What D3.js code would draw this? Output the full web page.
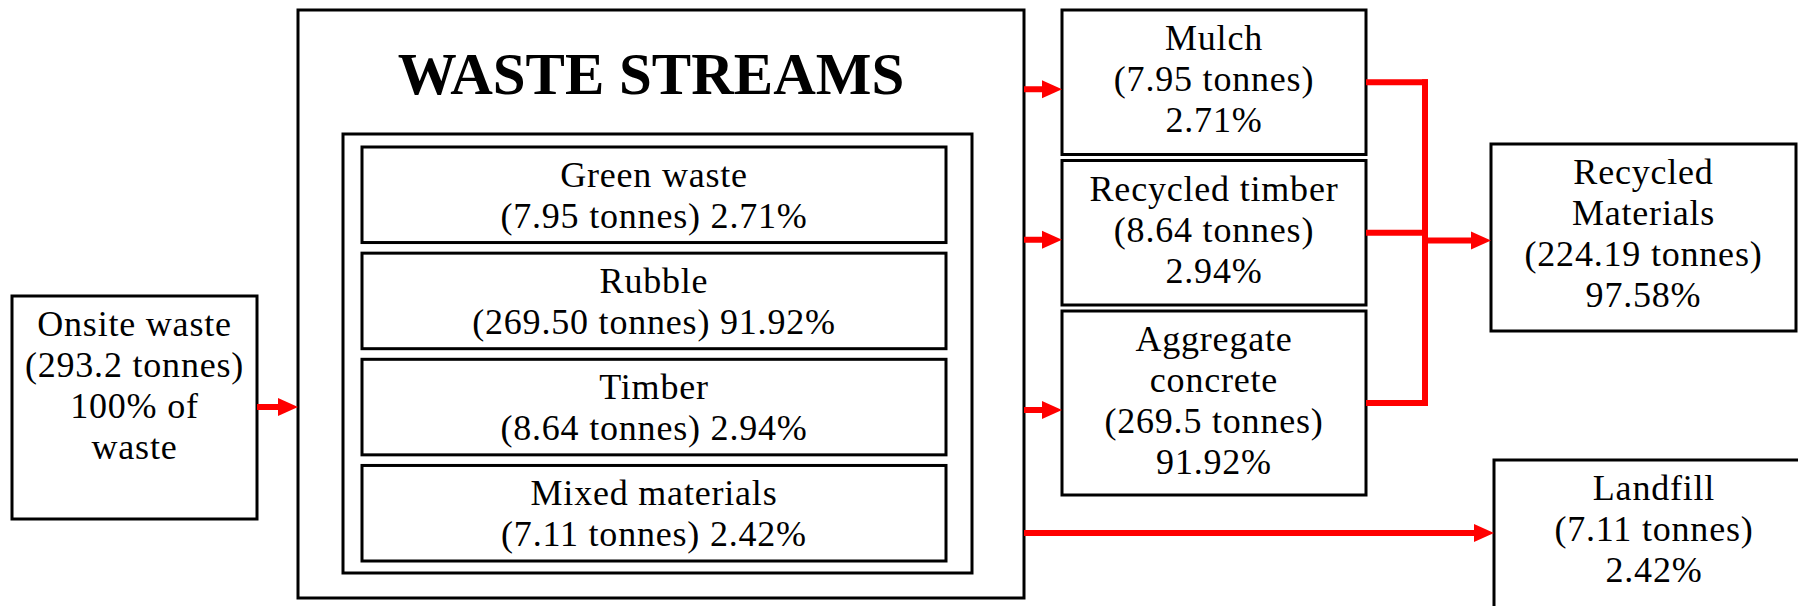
<!DOCTYPE html>
<html>
<head>
<meta charset="utf-8">
<script src="https://cdn.jsdelivr.net/npm/d3@7"></script>
<style>
  html, body { margin: 0; padding: 0; background: #fff; }
  svg { display: block; }
</style>
</head>
<body>
<svg id="diagrama"></svg>
<script>
/*═══════════════════════════════════════════════════════════════
  DATOS

  Flujo de residuos de obra: entrada total, corrientes de
  residuos, productos reciclados y destino final.
═══════════════════════════════════════════════════════════════*/
const corrientes    = ["Green waste", "Rubble", "Timber", "Mixed materials"];
const corrientesTon = [7.95, 269.50, 8.64, 7.11];
const corrientesPct = [2.71, 91.92, 2.94, 2.42];

const productos    = [["Mulch"], ["Recycled timber"], ["Aggregate", "concrete"]];
const productosTon = [7.95, 8.64, 269.5];
const productosPct = [2.71, 2.94, 91.92];

const totalTon = [293.2];
const totalPct = [100];

const destinos    = [["Recycled", "Materials"], ["Landfill"]];
const destinosTon = [224.19, 7.11];
const destinosPct = [97.58, 2.42];

const titulo = "WASTE STREAMS";

(function() {
  const width = 1798, height = 606;
  const rojo = "#ff0000";
  const fuente = "'Liberation Serif', 'Times New Roman', serif";
  const tam = 36, interlinea = 41, primeraLinea = 40;

  const svg = d3.select("#diagrama")
    .attr("width", width)
    .attr("height", height);

  /* caja con borde negro y texto centrado, alineado arriba */
  function caja(x, y, w, h, lineas) {
    const g = svg.append("g");
    g.append("rect")
      .attr("x", x).attr("y", y)
      .attr("width", w).attr("height", h)
      .attr("fill", "#fff")
      .attr("stroke", "#000")
      .attr("stroke-width", 3);
    g.selectAll("text")
      .data(lineas)
      .join("text")
      .attr("x", x + w / 2)
      .attr("y", (d, i) => y + primeraLinea + i * interlinea)
      .attr("text-anchor", "middle")
      .attr("font-family", fuente)
      .attr("font-size", tam + "px")
      .attr("letter-spacing", "0.8px")
      .attr("fill", "#000")
      .text(d => d);
    return { x, y, w, h, cy: y + h / 2 };
  }

  /* flecha roja horizontal que termina justo en x2 */
  function flecha(x1, x2, y, conPunta = true) {
    const largo = 20, medio = 9;
    svg.append("line")
      .attr("x1", x1).attr("y1", y)
      .attr("x2", conPunta ? x2 - largo + 2 : x2).attr("y2", y)
      .attr("stroke", rojo)
      .attr("stroke-width", 6);
    if (conPunta) {
      svg.append("path")
        .attr("d", `M ${x2 - largo} ${y - medio} L ${x2} ${y} L ${x2 - largo} ${y + medio} Z`)
        .attr("fill", rojo);
    }
  }

  /* ── entrada: residuos en obra ── */
  const onsite = caja(12, 296, 245, 223, [
    "Onsite waste",
    `(${totalTon[0]} tonnes)`,
    `${totalPct[0]}% of`,
    "waste"
  ]);

  /* ── contenedor de corrientes ── */
  const externo = caja(298, 10, 726, 588, []);
  svg.append("text")
    .attr("x", 651).attr("y", 94)
    .attr("text-anchor", "middle")
    .attr("font-family", fuente)
    .attr("font-weight", 700)
    .attr("font-size", "59px")
    .attr("fill", "#000")
    .text(titulo);

  caja(343, 134, 629, 439, []);

  const escalaFilas = d3.scaleBand()
    .domain(corrientes)
    .range([147, 561])
    .paddingInner(0.1);

  corrientes.forEach((c, i) => {
    caja(362, escalaFilas(c), 584, escalaFilas.bandwidth(), [
      c,
      `(${corrientesTon[i].toFixed(2)} tonnes) ${corrientesPct[i].toFixed(2)}%`
    ]);
  });

  /* ── productos reciclados (alto según cantidad de líneas) ── */
  let yProd = 10;
  const cajasProd = productos.map((p, i) => {
    const lineas = [...p, `(${productosTon[i]} tonnes)`, `${productosPct[i]}%`];
    const h = 26 + 39.5 * lineas.length;
    const b = caja(1062, yProd, 304, h, lineas);
    yProd += h + 6;
    return b;
  });

  /* ── destinos ── */
  const reciclado = caja(1491, 144, 305, 187, [
    ...destinos[0],
    `(${destinosTon[0]} tonnes)`,
    `${destinosPct[0]}%`
  ]);
  const vertedero = caja(1494, 460, 320, 200, [
    ...destinos[1],
    `(${destinosTon[1]} tonnes)`,
    `${destinosPct[1]}%`
  ]);

  /* ── conectores ── */
  flecha(onsite.x + onsite.w, externo.x, 407);

  cajasProd.forEach(b => flecha(externo.x + externo.w, b.x, b.cy + 7));

  const xUnion = 1425;
  cajasProd.forEach(b => flecha(b.x + b.w, xUnion + 3, b.cy, false));
  svg.append("line")
    .attr("x1", xUnion).attr("y1", cajasProd[0].cy - 3)
    .attr("x2", xUnion).attr("y2", cajasProd[cajasProd.length - 1].cy + 3)
    .attr("stroke", rojo)
    .attr("stroke-width", 6);
  flecha(xUnion, reciclado.x, reciclado.cy + 3);

  flecha(externo.x + externo.w, vertedero.x, vertedero.y + 73);
})();
</script>
</body>
</html>
